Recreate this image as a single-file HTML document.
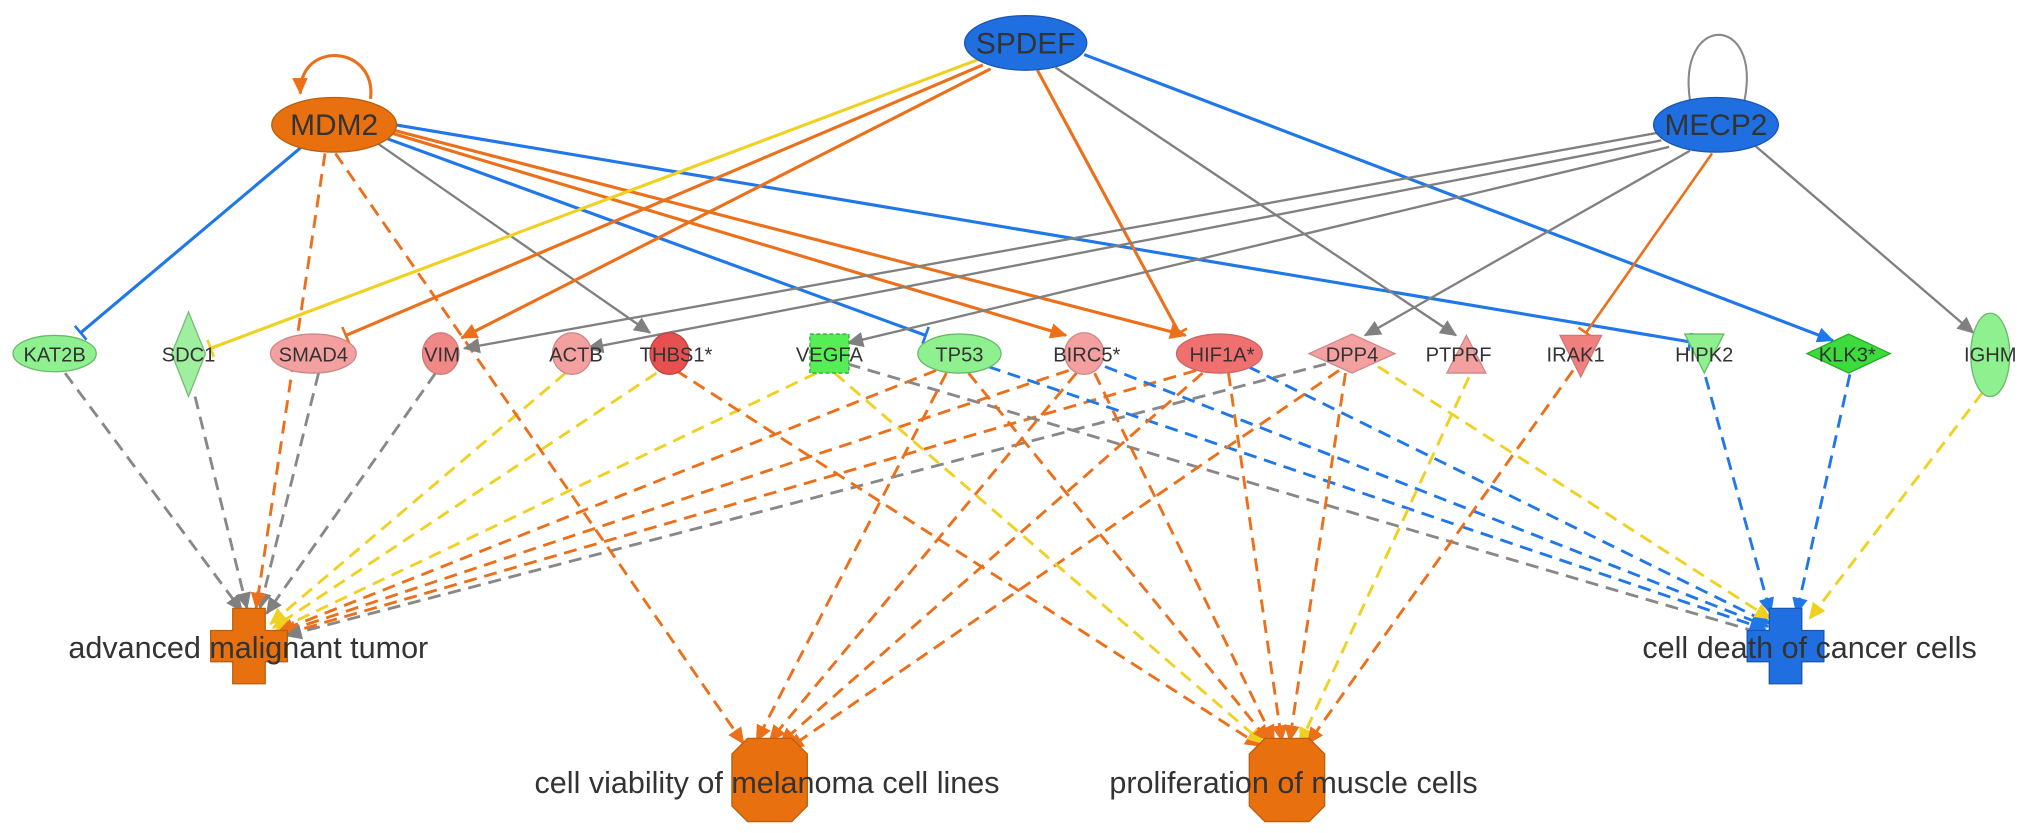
<!DOCTYPE html>
<html><head><meta charset="utf-8"><style>
html,body{margin:0;padding:0;background:#fff;}
svg{display:block;}
text{font-family:"Liberation Sans",sans-serif;fill:#333;}
</style></head><body>
<svg width="2031" height="833" viewBox="0 0 1562.3 640.8" xmlns="http://www.w3.org/2000/svg">
<defs>
<marker id="ao" markerUnits="userSpaceOnUse" markerWidth="14" markerHeight="12" refX="12" refY="6" orient="auto"><path d="M0,0 L13,6 L0,12 Z" fill="#ec6f1a"/></marker>
<marker id="ab" markerUnits="userSpaceOnUse" markerWidth="14" markerHeight="12" refX="12" refY="6" orient="auto"><path d="M0,0 L13,6 L0,12 Z" fill="#1f77e8"/></marker>
<marker id="ag" markerUnits="userSpaceOnUse" markerWidth="14" markerHeight="12" refX="12" refY="6" orient="auto"><path d="M0,0 L13,6 L0,12 Z" fill="#808080"/></marker>
<marker id="ay" markerUnits="userSpaceOnUse" markerWidth="14" markerHeight="12" refX="12" refY="6" orient="auto"><path d="M0,0 L13,6 L0,12 Z" fill="#f0d020"/></marker>
<marker id="to" markerUnits="userSpaceOnUse" markerWidth="4" markerHeight="14" refX="2" refY="7" orient="auto"><path d="M2,0 L2,14" stroke="#ec6f1a" stroke-width="2"/></marker>
<marker id="tb" markerUnits="userSpaceOnUse" markerWidth="4" markerHeight="14" refX="2" refY="7" orient="auto"><path d="M2,0 L2,14" stroke="#1f77e8" stroke-width="2"/></marker>
<marker id="ty" markerUnits="userSpaceOnUse" markerWidth="4" markerHeight="14" refX="2" refY="7" orient="auto"><path d="M2,0 L2,14" stroke="#f0d020" stroke-width="2"/></marker>
</defs>

<g fill="none" stroke-width="2.2" stroke-dasharray="10 6">
<line x1="50" y1="287" x2="186" y2="470" stroke="#888" marker-end="url(#ag)"/>
<line x1="150" y1="305" x2="190" y2="468" stroke="#888" marker-end="url(#ag)"/>
<line x1="245" y1="287" x2="200" y2="468" stroke="#888" marker-end="url(#ag)"/>
<line x1="250" y1="118" x2="197" y2="468" stroke="#ec6f1a" marker-end="url(#ao)"/>
<line x1="335" y1="287" x2="205" y2="472" stroke="#888" marker-end="url(#ag)"/>
<line x1="435" y1="287" x2="208" y2="480" stroke="#f0d020" marker-end="url(#ay)"/>
<line x1="505" y1="287" x2="210" y2="483" stroke="#f0d020" marker-end="url(#ay)"/>
<line x1="628" y1="287" x2="212" y2="485" stroke="#f0d020" marker-end="url(#ay)"/>
<line x1="720" y1="285" x2="214" y2="486" stroke="#ec6f1a" marker-end="url(#ao)"/>
<line x1="822" y1="285" x2="216" y2="487" stroke="#ec6f1a" marker-end="url(#ao)"/>
<line x1="920" y1="285" x2="218" y2="488" stroke="#ec6f1a" marker-end="url(#ao)"/>
<line x1="1020" y1="280" x2="220" y2="489" stroke="#888" marker-end="url(#ag)"/>
<line x1="652" y1="280" x2="1358" y2="488" stroke="#888" marker-end="url(#ag)"/>
<line x1="760" y1="282" x2="1358" y2="484" stroke="#1f77e8" marker-end="url(#ab)"/>
<line x1="850" y1="282" x2="1360" y2="482" stroke="#1f77e8" marker-end="url(#ab)"/>
<line x1="960" y1="282" x2="1362" y2="480" stroke="#1f77e8" marker-end="url(#ab)"/>
<line x1="1060" y1="282" x2="1362" y2="476" stroke="#f0d020" marker-end="url(#ay)"/>
<line x1="1312" y1="290" x2="1362" y2="472" stroke="#1f77e8" marker-end="url(#ab)"/>
<line x1="1423" y1="288" x2="1382" y2="472" stroke="#1f77e8" marker-end="url(#ab)"/>
<line x1="1525" y1="302" x2="1392" y2="476" stroke="#f0d020" marker-end="url(#ay)"/>
<line x1="258" y1="118" x2="572" y2="572" stroke="#ec6f1a" marker-end="url(#ao)"/>
<line x1="728" y1="287" x2="582" y2="570" stroke="#ec6f1a" marker-end="url(#ao)"/>
<line x1="828" y1="287" x2="592" y2="570" stroke="#ec6f1a" marker-end="url(#ao)"/>
<line x1="925" y1="287" x2="600" y2="572" stroke="#ec6f1a" marker-end="url(#ao)"/>
<line x1="1030" y1="285" x2="606" y2="576" stroke="#ec6f1a" marker-end="url(#ao)"/>
<line x1="520" y1="285" x2="970" y2="574" stroke="#ec6f1a" marker-end="url(#ao)"/>
<line x1="642" y1="287" x2="972" y2="572" stroke="#f0d020" marker-end="url(#ay)"/>
<line x1="745" y1="287" x2="976" y2="570" stroke="#ec6f1a" marker-end="url(#ao)"/>
<line x1="842" y1="287" x2="980" y2="570" stroke="#ec6f1a" marker-end="url(#ao)"/>
<line x1="945" y1="287" x2="986" y2="570" stroke="#ec6f1a" marker-end="url(#ao)"/>
<line x1="1035" y1="287" x2="992" y2="570" stroke="#ec6f1a" marker-end="url(#ao)"/>
<line x1="1130" y1="290" x2="1000" y2="572" stroke="#f0d020" marker-end="url(#ay)"/>
<line x1="1210" y1="285" x2="1006" y2="572" stroke="#ec6f1a" marker-end="url(#ao)"/>
</g>

<g fill="none" stroke-width="2.4">
<line x1="232" y1="113" x2="62" y2="256" stroke="#1f77e8" marker-end="url(#tb)"/>
<line x1="290" y1="110" x2="500" y2="256" stroke="#808080" stroke-width="1.8" marker-end="url(#ag)"/>
<line x1="296" y1="106" x2="712" y2="258" stroke="#1f77e8" marker-end="url(#tb)"/>
<line x1="300" y1="102" x2="820" y2="258" stroke="#ec6f1a" marker-end="url(#ao)"/>
<line x1="302" y1="100" x2="912" y2="258" stroke="#ec6f1a" marker-end="url(#ao)"/>
<line x1="304" y1="96" x2="1300" y2="263" stroke="#1f77e8" marker-end="url(#tb)"/>
<line x1="752" y1="46" x2="162" y2="268" stroke="#f0d020" marker-end="url(#ty)"/>
<line x1="756" y1="50" x2="266" y2="258" stroke="#ec6f1a" marker-end="url(#to)"/>
<line x1="762" y1="53" x2="355" y2="260" stroke="#ec6f1a" marker-end="url(#ao)"/>
<line x1="798" y1="54" x2="907" y2="256" stroke="#ec6f1a" marker-end="url(#to)"/>
<line x1="812" y1="52" x2="1120" y2="258" stroke="#808080" stroke-width="1.8" marker-end="url(#ag)"/>
<line x1="834" y1="42" x2="1410" y2="262" stroke="#1f77e8" marker-end="url(#ab)"/>
<line x1="1276" y1="102" x2="357" y2="268" stroke="#808080" stroke-width="1.8" marker-end="url(#ag)"/>
<line x1="1278" y1="108" x2="452" y2="268" stroke="#808080" stroke-width="1.8" marker-end="url(#ag)"/>
<line x1="1284" y1="113" x2="652" y2="264" stroke="#808080" stroke-width="1.8" marker-end="url(#ag)"/>
<line x1="1300" y1="116" x2="1050" y2="258" stroke="#808080" stroke-width="1.8" marker-end="url(#ag)"/>
<line x1="1317" y1="118" x2="1220" y2="256" stroke="#ec6f1a" stroke-width="2" marker-end="url(#to)"/>
<line x1="1350" y1="112" x2="1518" y2="256" stroke="#808080" stroke-width="1.8" marker-end="url(#ag)"/>
<path d="M285,76 C290,35 230,30 231,72" stroke="#ec6f1a" marker-end="url(#ao)"/>
<path d="M1300,77 C1290,10 1355,10 1342,77" stroke="#888" stroke-width="1.6"/>
</g>

<ellipse cx="789" cy="33" rx="47" ry="21" fill="#1f6fe0" stroke="#1a55b0"/>
<text x="789" y="41" font-size="23" text-anchor="middle">SPDEF</text>
<ellipse cx="257" cy="96" rx="48" ry="21" fill="#e8700f" stroke="#b8600f"/>
<text x="257" y="104" font-size="23" text-anchor="middle">MDM2</text>
<ellipse cx="1320" cy="96" rx="48" ry="21" fill="#1f6fe0" stroke="#1a55b0"/>
<text x="1320" y="104" font-size="23" text-anchor="middle">MECP2</text>

<g stroke-width="1">
<ellipse cx="42" cy="272" rx="32" ry="14" fill="#8ef08e" stroke="#6b6"/>
<polygon points="145,240 158,272 145,305 132,272" fill="#9ef09e" stroke="#7b7"/>
<ellipse cx="241" cy="272" rx="33" ry="15" fill="#f4a0a0" stroke="#c88"/>
<ellipse cx="339" cy="272" rx="14" ry="16" fill="#f08888" stroke="#c77"/>
<ellipse cx="440" cy="272" rx="15" ry="16" fill="#f4a0a0" stroke="#c88"/>
<ellipse cx="515" cy="272" rx="15" ry="16" fill="#e85050" stroke="#b44"/>
<rect x="623" y="257" width="30" height="30" fill="#55ee55" stroke="#3a3" stroke-dasharray="3 2"/>
<ellipse cx="738" cy="272" rx="32" ry="15" fill="#8ef08e" stroke="#6b6"/>
<ellipse cx="834" cy="272" rx="15" ry="16" fill="#f4a0a0" stroke="#c88"/>
<ellipse cx="938" cy="272" rx="33" ry="15" fill="#f07070" stroke="#c66"/>
<polygon points="1040,257 1073,272 1040,287 1007,272" fill="#f4a0a0" stroke="#c88"/>
<polygon points="1128,258 1143,287 1113,287" fill="#f4a0a0" stroke="#c88"/>
<polygon points="1200,258 1232,258 1216,290" fill="#f08080" stroke="#c77"/>
<polygon points="1296,257 1326,257 1311,287" fill="#8ef08e" stroke="#6b6"/>
<polygon points="1422,257 1454,272 1422,287 1390,272" fill="#3ddc3d" stroke="#2a2"/>
<ellipse cx="1531" cy="273" rx="15" ry="32" fill="#8ef08e" stroke="#6b6"/>
</g>
<g font-size="15.5" text-anchor="middle">
<text x="42" y="278">KAT2B</text>
<text x="145" y="278">SDC1</text>
<text x="241" y="278">SMAD4</text>
<text x="340" y="278">VIM</text>
<text x="443" y="278">ACTB</text>
<text x="520" y="278">THBS1*</text>
<text x="638" y="278">VEGFA</text>
<text x="738" y="278">TP53</text>
<text x="836" y="278">BIRC5*</text>
<text x="940" y="278">HIF1A*</text>
<text x="1040" y="278">DPP4</text>
<text x="1122" y="278">PTPRF</text>
<text x="1212" y="278">IRAK1</text>
<text x="1311" y="278">HIPK2</text>
<text x="1421" y="278">KLK3*</text>
<text x="1531" y="278">IGHM</text>
</g>

<path d="M179,468 h25 v17 h17 v24 h-17 v17 h-25 v-17 h-17 v-24 h17 z" fill="#e8700f" stroke="#b8600f"/>
<path d="M1361,468 h25 v17 h17 v24 h-17 v17 h-25 v-17 h-17 v-24 h17 z" fill="#1f6fe0" stroke="#1a55b0"/>
<polygon points="575,568 609,568 621,580 621,620 609,632 575,632 563,620 563,580" fill="#e8700f" stroke="#b8600f"/>
<polygon points="973,568 1007,568 1019,580 1019,620 1007,632 973,632 961,620 961,580" fill="#e8700f" stroke="#b8600f"/>
<g font-size="23.5" text-anchor="middle">
<text x="191" y="506">advanced malignant tumor</text>
<text x="1392" y="506">cell death of cancer cells</text>
<text x="590" y="610">cell viability of melanoma cell lines</text>
<text x="995" y="610">proliferation of muscle cells</text>
</g>
</svg>
</body></html>
